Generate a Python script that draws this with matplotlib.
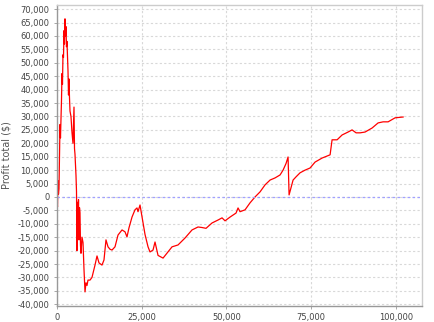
import matplotlib
matplotlib.use('Agg')
import matplotlib.pyplot as plt
from matplotlib.ticker import FuncFormatter, MultipleLocator

# === Data ===
trade_no = [
    0, 150, 300, 440, 590, 890, 1030, 1330, 1480, 1620, 1770, 1920, 2070, 2210,
    2360, 2510, 2660, 2800, 2950, 3100, 3250, 3400, 3540, 3690, 3840, 4130,
    4430, 4720, 5020, 5170, 5310, 5460, 5610, 5760, 5900, 6050, 6200, 6350,
    6490, 6640, 6790, 6940, 7080, 7380, 7680, 7970, 8270, 8560, 8860, 9150,
    9740, 10330, 10920, 11220, 11810, 12400, 13280, 13870, 14460, 15060,
    15650, 16240, 17120, 18010, 19190, 20070, 20660, 21250, 22140, 23020,
    23610, 23910, 24500, 25100, 25980, 26870, 27450, 28340, 28930, 29820,
    31300, 32770, 33950, 35720, 37790, 39850, 41620, 42800, 43980, 45760,
    47530, 48710, 49590, 51070, 52840, 53430, 54020, 55500, 56970, 58450,
    59930, 61400, 62880, 64360, 65830, 66720, 67600, 68190, 68490, 69670,
    70550, 71730, 73210, 74690, 76160, 78230, 80590, 81180, 82660, 84130,
    85900, 87080, 88260, 89450, 90920, 92990, 94760, 96240, 97710, 99780,
    102140,
]
profit = [
    0, -3700, 6000, 1000, 3000, 27000, 22000, 36000, 46000, 42000, 53000,
    52000, 62000, 57000, 66400, 60000, 63500, 56000, 58000, 53000, 47000,
    38000, 44000, 37000, 32000, 30000, 24000, 20000, 33500, 18000, 16000,
    12000, 8000, 2000, -20000, -2000, -10000, -1000, -16000, -4000, -6000,
    -18000, -21000, -15000, -17000, -27000, -35400, -32000, -33000, -31000,
    -31000, -30000, -27000, -25400, -22000, -24600, -25400, -23500, -16000,
    -18600, -19500, -19800, -18600, -14200, -12300, -13000, -14900, -11500,
    -7500, -4800, -4100, -5500, -3000, -7500, -14000, -18600, -20500, -19800,
    -16800, -21800, -22800, -20500, -18600, -17900, -15300, -12300, -11200,
    -11400, -11700, -9700, -8600, -7800, -8900, -7500, -6000, -4100, -5500,
    -4800, -2200, 0, 1900, 4500, 6300, 7100, 8200, 10000, 12500, 14900, 750,
    6300, 7500, 9000, 10000, 10800, 13000, 14500, 15700, 21300, 21300, 23100,
    24200, 25000, 23900, 23900, 24200, 25700, 27600, 28000, 28000, 29500,
    29800,
]

# === Chart ===
fig = plt.figure(figsize=(4.35, 3.22), dpi=100)
ax = fig.add_axes([0.131, 0.051, 0.839, 0.933])

ax.plot(trade_no, profit, color='#ff0000', lw=0.9)
ax.axhline(0, color='#a0a0ff', ls=(0, (2, 2)), lw=0.9)

ax.set_xlim(0, 107700)
ax.set_ylim(-40500, 71500)
ax.xaxis.set_major_locator(MultipleLocator(25000))
ax.yaxis.set_major_locator(MultipleLocator(5000))
fmt = FuncFormatter(lambda v, p: f"{int(v):,}")
ax.xaxis.set_major_formatter(fmt)
ax.yaxis.set_major_formatter(fmt)

ax.grid(True, color='#d8d8d8', ls=(0, (2, 2)), lw=0.8)
ax.set_axisbelow(True)
ax.tick_params(labelsize=6, colors='#444444', length=2, width=0.6)
ax.tick_params(axis='both', color='#999999')
ax.set_ylabel('Profit total ($)', fontsize=7, color='#555555', labelpad=4)

for s in ax.spines.values():
    s.set_color('#cccccc')
    s.set_linewidth(1.0)
ax.spines['left'].set_color('#999999')
ax.spines['bottom'].set_color('#999999')

plt.savefig('out.png', dpi=100)
plt.close()
